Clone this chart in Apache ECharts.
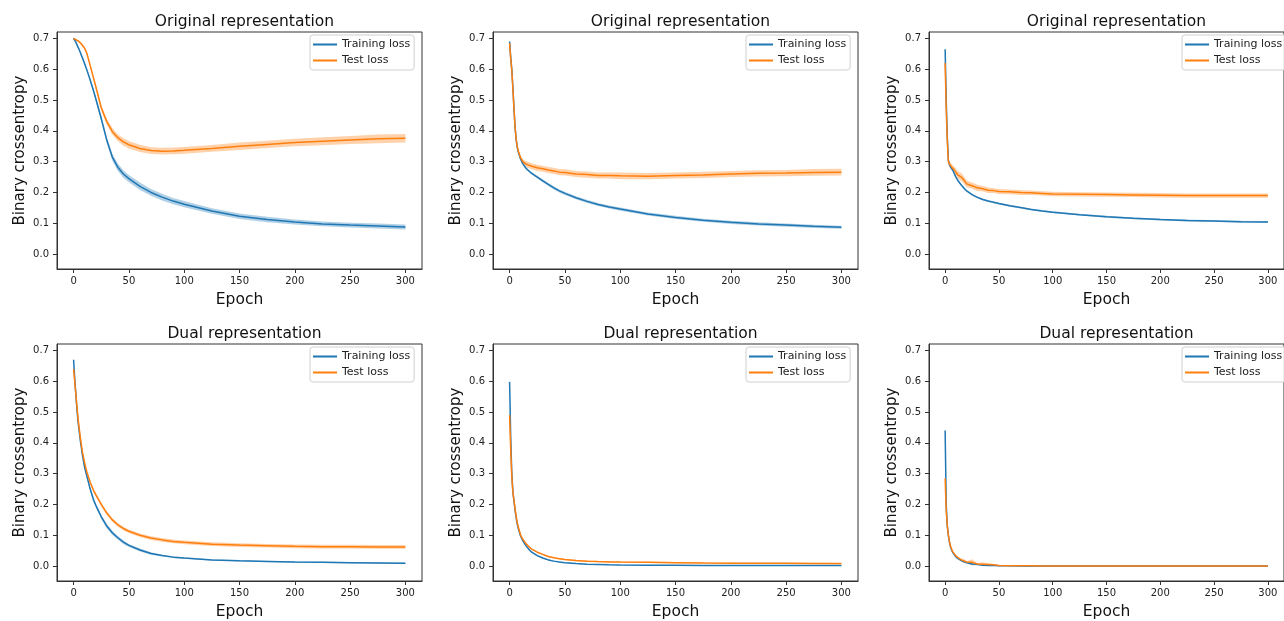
<!DOCTYPE html>
<html>
<head>
<meta charset="utf-8">
<title>Binary crossentropy – original vs dual representation</title>
<script src="https://cdn.jsdelivr.net/npm/echarts@6.0.0/dist/echarts.min.js"></script>
<style>
  html, body { margin: 0; padding: 0; background: #fff; }
  #chart { width: 1284px; height: 621px; }
</style>
</head>
<body>
<div id="chart"></div>
<script>
const epochs = [0, 1, 2, 3, 4, 5, 6, 7, 8, 10, 12, 15, 18, 20, 25, 30, 35, 40, 45, 50,
  60, 70, 80, 90, 100, 125, 150, 175, 200, 225, 250, 275, 300];

const xTicks = [0, 50, 100, 150, 200, 250, 300];
const yTicks = [0, 0.1, 0.2, 0.3, 0.4, 0.5, 0.6, 0.7];

const titles = ['Original representation', 'Original representation', 'Original representation',
  'Dual representation', 'Dual representation', 'Dual representation'];

// top row – original representation
const trainOrig1 = [0.700, 0.695, 0.688, 0.680, 0.672, 0.664, 0.655, 0.646, 0.637, 0.618, 0.598, 0.565, 0.530, 0.505,
  0.440, 0.370, 0.315, 0.282, 0.260, 0.245, 0.220, 0.200, 0.185, 0.172, 0.162, 0.140, 0.123, 0.112, 0.104, 0.098, 0.094, 0.091, 0.088];
const testOrig1 = [0.700, 0.698, 0.696, 0.694, 0.692, 0.690, 0.686, 0.682, 0.678, 0.668, 0.652, 0.612, 0.572, 0.545,
  0.475, 0.430, 0.398, 0.378, 0.364, 0.355, 0.343, 0.336, 0.334, 0.335, 0.337, 0.343, 0.350, 0.356, 0.362, 0.366, 0.370, 0.374, 0.376];
const trainSpreadOrig1 = [0.003, 0.003, 0.003, 0.003, 0.003, 0.004, 0.004, 0.004, 0.004, 0.005, 0.005, 0.006, 0.007, 0.008,
  0.009, 0.010, 0.011, 0.012, 0.012, 0.012, 0.012, 0.011, 0.011, 0.010, 0.010, 0.009, 0.009, 0.009, 0.008, 0.008, 0.008, 0.008, 0.008];
const testSpreadOrig1 = [0.003, 0.003, 0.003, 0.003, 0.003, 0.004, 0.004, 0.004, 0.004, 0.005, 0.005, 0.006, 0.007, 0.008,
  0.009, 0.010, 0.011, 0.011, 0.012, 0.012, 0.012, 0.011, 0.011, 0.011, 0.011, 0.011, 0.012, 0.012, 0.012, 0.013, 0.013, 0.014, 0.014];

const trainOrig2 = [0.690, 0.640, 0.600, 0.540, 0.470, 0.410, 0.370, 0.345, 0.330, 0.308, 0.293, 0.278, 0.268, 0.262,
  0.250, 0.238, 0.226, 0.215, 0.205, 0.197, 0.183, 0.171, 0.161, 0.153, 0.146, 0.130, 0.119, 0.110, 0.103, 0.098, 0.094, 0.090, 0.087];
const testOrig2 = [0.685, 0.635, 0.595, 0.535, 0.470, 0.410, 0.372, 0.348, 0.333, 0.312, 0.300, 0.292, 0.288, 0.285,
  0.280, 0.277, 0.273, 0.270, 0.266, 0.265, 0.260, 0.258, 0.255, 0.255, 0.254, 0.253, 0.255, 0.257, 0.260, 0.262, 0.263, 0.265, 0.266];
const trainSpreadOrig2 = [0.004, 0.004, 0.004, 0.004, 0.004, 0.004, 0.004, 0.004, 0.004, 0.004, 0.004, 0.004, 0.004, 0.004,
  0.004, 0.005, 0.005, 0.005, 0.005, 0.005, 0.005, 0.005, 0.005, 0.005, 0.005, 0.005, 0.005, 0.005, 0.005, 0.005, 0.005, 0.005, 0.005];
const testSpreadOrig2 = [0.004, 0.004, 0.004, 0.004, 0.004, 0.005, 0.005, 0.005, 0.006, 0.007, 0.008, 0.009, 0.010, 0.010,
  0.010, 0.010, 0.010, 0.010, 0.010, 0.010, 0.010, 0.010, 0.010, 0.010, 0.011, 0.010, 0.010, 0.010, 0.010, 0.010, 0.010, 0.011, 0.011];

const trainOrig3 = [0.665, 0.500, 0.380, 0.305, 0.290, 0.283, 0.278, 0.273, 0.268, 0.250, 0.238, 0.224, 0.212, 0.205,
  0.193, 0.184, 0.177, 0.172, 0.168, 0.164, 0.157, 0.151, 0.145, 0.140, 0.136, 0.128, 0.121, 0.116, 0.112, 0.109, 0.107, 0.105, 0.104];
const testOrig3 = [0.620, 0.470, 0.370, 0.300, 0.292, 0.287, 0.283, 0.279, 0.275, 0.266, 0.256, 0.250, 0.238, 0.228,
  0.222, 0.215, 0.212, 0.207, 0.206, 0.203, 0.202, 0.200, 0.199, 0.197, 0.195, 0.194, 0.193, 0.192, 0.191, 0.190, 0.190, 0.190, 0.190];
const trainSpreadOrig3 = [0.003, 0.003, 0.003, 0.003, 0.003, 0.003, 0.003, 0.003, 0.003, 0.003, 0.003, 0.003, 0.003, 0.003,
  0.003, 0.003, 0.003, 0.003, 0.003, 0.003, 0.003, 0.003, 0.003, 0.003, 0.003, 0.003, 0.003, 0.003, 0.003, 0.003, 0.003, 0.003, 0.003];
const testSpreadOrig3 = [0.003, 0.004, 0.005, 0.006, 0.008, 0.010, 0.010, 0.010, 0.011, 0.012, 0.012, 0.013, 0.012, 0.011,
  0.010, 0.010, 0.009, 0.009, 0.008, 0.008, 0.008, 0.008, 0.007, 0.007, 0.007, 0.007, 0.007, 0.007, 0.007, 0.007, 0.007, 0.007, 0.007];

// bottom row – dual representation
const trainDual1 = [0.670, 0.610, 0.560, 0.510, 0.470, 0.440, 0.410, 0.385, 0.360, 0.320, 0.292, 0.250, 0.215, 0.198,
  0.160, 0.130, 0.108, 0.092, 0.078, 0.067, 0.052, 0.041, 0.034, 0.029, 0.026, 0.020, 0.017, 0.015, 0.013, 0.012, 0.011, 0.010, 0.009];
const testDual1 = [0.640, 0.600, 0.560, 0.520, 0.480, 0.450, 0.420, 0.395, 0.370, 0.335, 0.305, 0.272, 0.246, 0.232,
  0.200, 0.172, 0.150, 0.134, 0.122, 0.113, 0.100, 0.091, 0.085, 0.080, 0.077, 0.071, 0.068, 0.066, 0.064, 0.063, 0.063, 0.062, 0.062];
const trainSpreadDual1 = [0.004, 0.004, 0.004, 0.004, 0.004, 0.004, 0.005, 0.005, 0.005, 0.006, 0.006, 0.007, 0.007, 0.007,
  0.007, 0.007, 0.007, 0.006, 0.006, 0.005, 0.005, 0.004, 0.003, 0.003, 0.002, 0.002, 0.002, 0.002, 0.002, 0.002, 0.002, 0.002, 0.002];
const testSpreadDual1 = [0.004, 0.004, 0.004, 0.004, 0.004, 0.004, 0.005, 0.005, 0.005, 0.005, 0.005, 0.006, 0.006, 0.006,
  0.006, 0.006, 0.006, 0.006, 0.006, 0.006, 0.006, 0.006, 0.006, 0.006, 0.006, 0.006, 0.006, 0.006, 0.006, 0.006, 0.006, 0.006, 0.006];

const trainDual2 = [0.598, 0.420, 0.300, 0.240, 0.210, 0.180, 0.155, 0.135, 0.120, 0.097, 0.082, 0.065, 0.052, 0.045,
  0.034, 0.026, 0.020, 0.016, 0.013, 0.011, 0.008, 0.006, 0.005, 0.004, 0.0035, 0.003, 0.0025, 0.002, 0.002, 0.002, 0.0015, 0.0015, 0.0015];
const testDual2 = [0.490, 0.380, 0.290, 0.240, 0.212, 0.185, 0.160, 0.140, 0.125, 0.100, 0.087, 0.072, 0.061, 0.055,
  0.045, 0.038, 0.031, 0.027, 0.024, 0.021, 0.018, 0.016, 0.0145, 0.0135, 0.013, 0.012, 0.011, 0.010, 0.0095, 0.009, 0.009, 0.0085, 0.008];
const trainSpreadDual2 = [0.002, 0.002, 0.002, 0.002, 0.002, 0.002, 0.002, 0.002, 0.002, 0.002, 0.002, 0.002, 0.002, 0.002,
  0.002, 0.002, 0.002, 0.001, 0.001, 0.001, 0.001, 0.001, 0.001, 0.001, 0.001, 0.001, 0.001, 0.001, 0.001, 0.001, 0.001, 0.001, 0.001];
const testSpreadDual2 = [0.002, 0.002, 0.002, 0.002, 0.002, 0.002, 0.002, 0.002, 0.002, 0.002, 0.002, 0.002, 0.002, 0.002,
  0.002, 0.002, 0.002, 0.002, 0.002, 0.002, 0.002, 0.002, 0.002, 0.002, 0.002, 0.002, 0.002, 0.002, 0.002, 0.002, 0.002, 0.002, 0.002];

const trainDual3 = [0.440, 0.200, 0.130, 0.100, 0.078, 0.062, 0.052, 0.045, 0.039, 0.030, 0.024, 0.018, 0.013, 0.011,
  0.007, 0.005, 0.003, 0.002, 0.0015, 0.001, 0.0008, 0.0006, 0.0005, 0.0004, 0.0004, 0.0003, 0.0003, 0.0002, 0.0002, 0.0002, 0.0002, 0.0002, 0.0002];
const testDual3 = [0.285, 0.180, 0.130, 0.100, 0.080, 0.065, 0.055, 0.047, 0.041, 0.033, 0.027, 0.020, 0.016, 0.013,
  0.012, 0.007, 0.006, 0.005, 0.004, 0.002, 0.001, 0.0008, 0.0007, 0.0006, 0.0005, 0.0005, 0.0004, 0.0004, 0.0004, 0.0004, 0.0004, 0.0004, 0.0004];
const trainSpreadDual3 = [0.001, 0.001, 0.001, 0.001, 0.001, 0.001, 0.001, 0.001, 0.001, 0.001, 0.001, 0.001, 0.001, 0.001,
  0.001, 0.001, 0.001, 0.001, 0.001, 0.001, 0.001, 0.001, 0.001, 0.001, 0.001, 0.001, 0.001, 0.001, 0.001, 0.001, 0.001, 0.001, 0.001];
const testSpreadDual3 = [0.002, 0.002, 0.002, 0.002, 0.002, 0.002, 0.002, 0.002, 0.002, 0.002, 0.002, 0.004, 0.006, 0.003,
  0.010, 0.003, 0.006, 0.004, 0.003, 0.001, 0.001, 0.001, 0.001, 0.001, 0.001, 0.001, 0.001, 0.001, 0.001, 0.001, 0.001, 0.001, 0.001];

const panels = [
  { train: trainOrig1, test: testOrig1, trainSpread: trainSpreadOrig1, testSpread: testSpreadOrig1 },
  { train: trainOrig2, test: testOrig2, trainSpread: trainSpreadOrig2, testSpread: testSpreadOrig2 },
  { train: trainOrig3, test: testOrig3, trainSpread: trainSpreadOrig3, testSpread: testSpreadOrig3 },
  { train: trainDual1, test: testDual1, trainSpread: trainSpreadDual1, testSpread: testSpreadDual1 },
  { train: trainDual2, test: testDual2, trainSpread: trainSpreadDual2, testSpread: testSpreadDual2 },
  { train: trainDual3, test: testDual3, trainSpread: trainSpreadDual3, testSpread: testSpreadDual3 }
];

const BLUE = '#1f77b4';
const ORANGE = '#ff7f0e';
const FONT = 'DejaVu Sans';

const colLeft = [57, 493, 929];
const rowTop = [32, 344];
const GRID_W = 365;
const GRID_H = 237;

const pairs = ys => epochs.map((x, i) => [x, ys[i]]);

// one polygon per band: upper edge left→right, lower edge right→left
const bandSeries = (i, mean, spread, fill) => {
  const rows = epochs.map((x, k) => [x, mean[k] - spread[k], mean[k] + spread[k]]);
  return {
    type: 'custom',
    xAxisIndex: i,
    yAxisIndex: i,
    silent: true,
    clip: true,
    z: 1,
    encode: { x: 0, y: [1, 2] },
    data: rows,
    renderItem: (params, api) => {
      if (params.dataIndex !== 0) return null;
      const upper = rows.map(r => api.coord([r[0], r[2]]));
      const lower = rows.map(r => api.coord([r[0], r[1]])).reverse();
      return {
        type: 'polygon',
        shape: { points: upper.concat(lower) },
        style: { fill }
      };
    }
  };
};

const grid = [], xAxis = [], yAxis = [], title = [], legend = [], series = [];

panels.forEach((p, i) => {
  const left = colLeft[i % 3];
  const top = rowTop[Math.floor(i / 3)];

  grid.push({ left, top, width: GRID_W, height: GRID_H, show: true, borderColor: '#333', borderWidth: 1 });

  title.push({
    text: titles[i],
    left: left + GRID_W / 2,
    top: top - 23,
    textAlign: 'center',
    textStyle: { fontFamily: FONT, fontSize: 15.5, fontWeight: 'normal', color: '#111' }
  });

  legend.push({
    orient: 'vertical',
    left: left + GRID_W - 112,
    top: top + 3,
    icon: 'rect',
    itemWidth: 24,
    itemHeight: 2,
    itemGap: 3,
    padding: [3, 4, 3, 3],
    backgroundColor: 'rgba(255,255,255,0.85)',
    borderColor: '#d0d0d0',
    borderWidth: 1,
    borderRadius: 3,
    textStyle: { fontFamily: FONT, fontSize: 11, lineHeight: 13, color: '#222' },
    data: ['Training loss', 'Test loss']
  });

  xAxis.push({
    type: 'value',
    gridIndex: i,
    min: -15,
    max: 315,
    name: 'Epoch',
    nameLocation: 'middle',
    nameGap: 23,
    nameTextStyle: { fontFamily: FONT, fontSize: 15.5, color: '#111' },
    axisLine: { show: true, onZero: false, lineStyle: { color: '#333' } },
    axisTick: { show: true, length: 4, customValues: xTicks, lineStyle: { color: '#333' } },
    axisLabel: { customValues: xTicks, margin: 7, fontFamily: FONT, fontSize: 10, color: '#222' },
    splitLine: { show: false }
  });

  yAxis.push({
    type: 'value',
    gridIndex: i,
    min: -0.0485,
    max: 0.721,
    name: 'Binary crossentropy',
    nameLocation: 'middle',
    nameGap: 29,
    nameTextStyle: { fontFamily: FONT, fontSize: 15, color: '#111' },
    axisLine: { show: true, onZero: false, lineStyle: { color: '#333' } },
    axisTick: { show: true, length: 4, customValues: yTicks, lineStyle: { color: '#333' } },
    axisLabel: {
      customValues: yTicks, margin: 8, fontFamily: FONT, fontSize: 10, color: '#222',
      formatter: v => v.toFixed(1)
    },
    splitLine: { show: false }
  });

  series.push(bandSeries(i, p.train, p.trainSpread, 'rgba(31,119,180,0.35)'));
  series.push(bandSeries(i, p.test, p.testSpread, 'rgba(255,127,14,0.35)'));

  series.push({
    type: 'line', name: 'Training loss', xAxisIndex: i, yAxisIndex: i,
    data: pairs(p.train), symbol: 'none', color: BLUE,
    lineStyle: { width: 1.5, color: BLUE }, z: 3
  });
  series.push({
    type: 'line', name: 'Test loss', xAxisIndex: i, yAxisIndex: i,
    data: pairs(p.test), symbol: 'none', color: ORANGE,
    lineStyle: { width: 1.5, color: ORANGE }, z: 4
  });
});

const chart = echarts.init(document.getElementById('chart'));
chart.setOption({
  backgroundColor: '#fff',
  animation: false,
  textStyle: { fontFamily: FONT },
  title, legend, grid, xAxis, yAxis, series
});
window.addEventListener('resize', () => chart.resize());
</script>
</body>
</html>
